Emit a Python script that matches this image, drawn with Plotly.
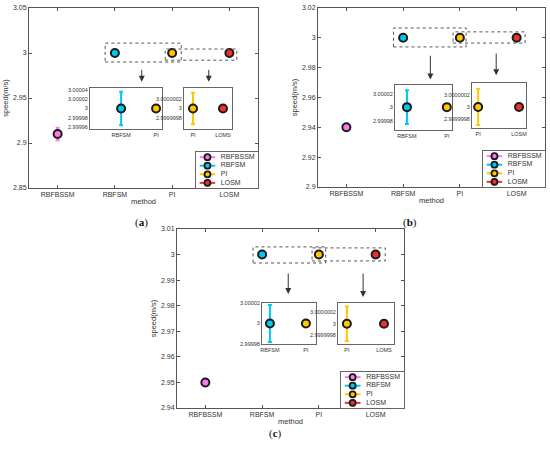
import plotly.graph_objects as go

# values
methods = ['RBFBSSM', 'RBFSM', 'PI', 'LOSM']
colors = ['#FF78F0', '#00C8F0', '#FFC800', '#F03030']

speed_a = [2.91, 3.0, 3.0, 3.0]
err_a = [0.007, 0.000036, 0.00000033, 0.0]
speed_b = [2.94, 3.0, 3.0, 3.0]
err_b = [0.0012, 0.000025, 0.0000003, 0.0]
speed_c = [2.95, 3.0, 3.0, 3.0]
err_c = [0.0007, 0.000018, 0.0000003, 0.0]

inset1_labels = ['RBFSM', 'PI']
inset2_labels_a = ['PI', 'LOMS']
inset2_labels_b = ['PI', 'LOSM']
inset2_labels_c = ['PI', 'LOMS']

yticks_a = [2.85, 2.9, 2.95, 3.0, 3.05]
yticks_b = [2.9, 2.92, 2.94, 2.96, 2.98, 3.0, 3.02]
yticks_c = [2.94, 2.95, 2.96, 2.97, 2.98, 2.99, 3.0, 3.01]

FONT = 'Liberation Sans'
TXT = '#333'
W, H = 550, 450


def px(x0, x1):
    return [x0 / W, x1 / W]


def py(y0, y1):
    return [1 - y1 / H, 1 - y0 / H]


def marker(c, size=8, lw=2):
    return dict(symbol='circle', size=size, color=c, line=dict(color='#1a1a1a', width=lw))


fig = go.Figure()

# main panels: suffix, domain x, domain y, y range, y ticks, speeds, errs, legend box
panels = [
    ('', px(29, 258), py(8, 188), [2.85, 3.05], yticks_a, speed_a, err_a, (px(196, 258), py(152, 188))),
    ('2', px(318, 545), py(8, 187), [2.9, 3.02], yticks_b, speed_b, err_b, (px(483, 545), py(151, 187))),
    ('3', px(177, 404), py(229, 408), [2.94, 3.01], yticks_c, speed_c, err_c, (px(341, 404), py(372, 408))),
]

leg_suffix = ['10', '11', '12']

for p, (s, dx, dy, yr, yt, sp, er, lbox) in enumerate(panels):
    for i, m in enumerate(methods):
        fig.add_trace(go.Scatter(
            x=[i + 1], y=[sp[i]], name=m, mode='markers',
            marker=marker(colors[i]),
            error_y=dict(type='data', array=[er[i]], color=colors[i], thickness=2, width=2),
            xaxis='x' + s, yaxis='y' + s, showlegend=False))
    fig.layout['xaxis' + s] = dict(
        domain=dx, range=[0.5, 4.5], tickvals=[1, 2, 3, 4], ticktext=methods,
        showgrid=False, zeroline=False, showline=True, mirror='ticks', automargin=False,
        linecolor='#555', linewidth=1, ticks='inside', ticklen=3, tickcolor='#555',
        tickfont=dict(size=7, color=TXT, family=FONT),
        title=dict(text='method', font=dict(size=7.5, color=TXT, family=FONT), standoff=1),
        anchor='y' + s)
    fig.layout['yaxis' + s] = dict(
        domain=dy, range=yr, tickvals=yt, ticktext=[('%g' % v) for v in yt],
        showgrid=False, zeroline=False, showline=True, mirror='ticks', automargin=False,
        linecolor='#555', linewidth=1, ticks='inside', ticklen=3, tickcolor='#555',
        tickfont=dict(size=7, color=TXT, family=FONT),
        title=dict(text='speed(m/s)', font=dict(size=7.5, color=TXT, family=FONT), standoff=3),
        anchor='x' + s)

    # hand drawn legend box in its own small axes
    ls = leg_suffix[p]
    ldx, ldy = lbox
    for i, m in enumerate(methods):
        fig.add_trace(go.Scatter(
            x=[0.06, 0.31], y=[i + 1, i + 1], mode='lines', line=dict(color=colors[i], width=2),
            xaxis='x' + ls, yaxis='y' + ls, showlegend=False, hoverinfo='skip'))
        fig.add_trace(go.Scatter(
            x=[0.185], y=[i + 1], mode='markers',
            marker=marker(colors[i], size=6, lw=1.8),
            error_y=dict(type='constant', value=0.3, color=colors[i], thickness=1.5, width=2),
            xaxis='x' + ls, yaxis='y' + ls, showlegend=False, hoverinfo='skip'))
        fig.add_trace(go.Scatter(
            x=[0.4], y=[i + 1], mode='text', text=[m], textposition='middle right',
            textfont=dict(size=7, color=TXT, family=FONT),
            xaxis='x' + ls, yaxis='y' + ls, showlegend=False, hoverinfo='skip'))
    fig.layout['xaxis' + ls] = dict(domain=ldx, range=[0, 1], showticklabels=False,
                                    ticks='', showgrid=False, zeroline=False, showline=True,
                                    mirror=True, linecolor='#666', anchor='y' + ls,
                                    automargin=False)
    fig.layout['yaxis' + ls] = dict(domain=ldy, range=[4.6, 0.4], showticklabels=False,
                                    ticks='', showgrid=False, zeroline=False, showline=True,
                                    mirror=True, linecolor='#666', anchor='x' + ls,
                                    automargin=False)

# insets: suffix, domain x, domain y, x range, y range, tick vals, tick text, labels, method idx, speeds, errs
insets = [
    ('4', px(90, 162), py(88, 129), [0.11, 2.17], [2.999956, 3.000044],
     [2.99996, 2.99998, 3.0, 3.00002, 3.00004], ['2.99996', '2.99998', '3', '3.00002', '3.00004'],
     inset1_labels, [1, 2], speed_a, err_a),
    ('5', px(184, 232), py(88, 129), [0.7, 2.3], [2.99999957, 3.00000043],
     [2.9999998, 3.0, 3.0000002], ['2.9999998', '3', '3.0000002'],
     inset2_labels_a, [2, 3], speed_a, err_a),
    ('6', px(395, 452), py(85, 130), [0.7, 2.13], [2.999966, 3.000033],
     [2.99998, 3.0, 3.00002], ['2.99998', '3', '3.00002'],
     inset1_labels, [1, 2], speed_b, err_b),
    ('7', px(472, 526), py(83, 128), [0.85, 2.17], [2.99999965, 3.0000004],
     [2.9999998, 3.0, 3.0000002], ['2.9999998', '3', '3.0000002'],
     inset2_labels_b, [2, 3], speed_b, err_b),
    ('8', px(262, 316), py(303, 344), [0.78, 2.28], [2.99998, 3.00002],
     [2.99998, 3.0, 3.00002], ['2.99998', '3', '3.00002'],
     inset1_labels, [1, 2], speed_c, err_c),
    ('9', px(338, 394), py(303, 344), [0.76, 2.27], [2.99999965, 3.00000036],
     [2.9999998, 3.0, 3.0000002], ['2.9999998', '3', '3.0000002'],
     inset2_labels_c, [2, 3], speed_c, err_c),
]

for s, dx, dy, xr, yr, tv, tt, labels, idx, sp, er in insets:
    for k, i in enumerate(idx):
        fig.add_trace(go.Scatter(
            x=[k + 1], y=[sp[i]], mode='markers', marker=marker(colors[i]),
            error_y=dict(type='data', array=[er[i]], color=colors[i], thickness=2, width=2),
            xaxis='x' + s, yaxis='y' + s, showlegend=False))
    fig.layout['xaxis' + s] = dict(domain=dx, range=xr, tickvals=[1, 2], ticktext=labels,
                                   showgrid=False, zeroline=False, showline=True, mirror=True,
                                   linecolor='#666', ticks='', anchor='y' + s, automargin=False,
                                   tickfont=dict(size=5.5, color=TXT, family=FONT))
    fig.layout['yaxis' + s] = dict(domain=dy, range=yr, tickvals=tv, ticktext=tt,
                                   showgrid=False, zeroline=False, showline=True, mirror=True,
                                   linecolor='#666', ticks='', anchor='x' + s, automargin=False,
                                   tickfont=dict(size=5.5, color=TXT, family=FONT))

# dotted zoom boxes and arrows in data units of each main panel
boxes = [
    ('', [1.83, 3.16, 2.990, 3.011], [2.88, 4.13, 2.992, 3.0044]),
    ('2', [1.83, 3.11, 2.9939, 3.0066], [2.88, 4.15, 2.9965, 3.004]),
    ('3', [1.84, 3.12, 2.9967, 3.003], [2.88, 4.17, 2.9975, 3.0026]),
]
arrows = [
    ('', [(2.47, 2.983, 2.968), (3.64, 2.983, 2.968)]),
    ('2', [(2.48, 2.989, 2.972), (3.64, 2.9905, 2.975)]),
    ('3', [(2.46, 2.9932, 2.9846), (3.78, 2.9932, 2.9834)]),
]
for s, b1, b2 in boxes:
    for b in (b1, b2):
        fig.add_shape(type='rect', xref='x' + s, yref='y' + s, x0=b[0], x1=b[1], y0=b[2], y1=b[3],
                      line=dict(color='#555', width=1, dash='dot'))
for s, arr in arrows:
    for xa, y0, y1 in arr:
        fig.add_annotation(xref='x' + s, yref='y' + s, axref='x' + s, ayref='y' + s,
                           x=xa, y=y1, ax=xa, ay=y0, text='', showarrow=True,
                           arrowhead=2, arrowsize=1.2, arrowwidth=1, arrowcolor='#333')

for lab, xc, yc in [('(<b>a</b>)', 133, 222), ('(<b>b</b>)', 419, 222), ('(<b>c</b>)', 275, 442)]:
    fig.add_annotation(xref='paper', yref='paper', x=xc / W, y=1 - yc / H, text=lab,
                       showarrow=False, font=dict(size=11, color='#111', family='Liberation Serif'))

fig.update_layout(width=W, height=H, margin=dict(l=0, r=0, t=0, b=0),
                  plot_bgcolor='white', paper_bgcolor='white', showlegend=False)

# the page body has a default margin; drop it so the figure sits at the window corner
fig.write_html("out.html", config={'displayModeBar': False},
               post_script="document.body.style.margin='0';document.body.style.overflow='hidden';")
